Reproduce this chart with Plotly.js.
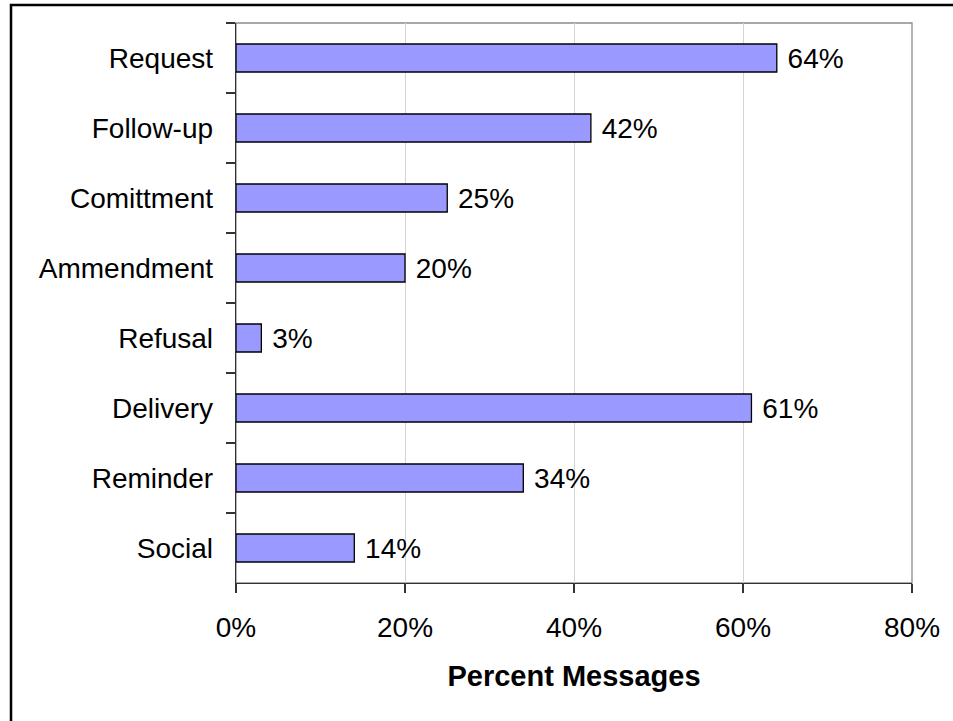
<!DOCTYPE html>
<html>
<head>
<meta charset="utf-8">
<script src="https://cdn.plot.ly/plotly-3.0.1.min.js"></script>
<style>
  html, body { margin: 0; padding: 0; background: #ffffff; }
  #chart { width: 953px; height: 721px; }
</style>
</head>
<body>
<div id="chart"></div>
<script>
const categories = ["Request", "Follow-up", "Comittment", "Ammendment", "Refusal", "Delivery", "Reminder", "Social"];
const percentValues = [64, 42, 25, 20, 3, 61, 34, 14];
const xTickValues = [0, 20, 40, 60, 80];
const xTickLabels = ["0%", "20%", "40%", "60%", "80%"];
const xAxisTitle = "Percent Messages";

const FONT = '"Liberation Sans", Arial, Helvetica, sans-serif';

const trace = {
  type: 'bar',
  orientation: 'h',
  y: categories,
  x: percentValues,
  width: 0.4,
  marker: { color: '#9999ff', line: { color: '#000000', width: 1.3 } },
  text: percentValues.map(v => '\u00a0' + v + '%'),
  textposition: 'outside',
  constraintext: 'none',
  cliponaxis: false,
  textfont: { family: FONT, size: 28, color: '#000000' },
  hoverinfo: 'none'
};

// plot area occupies px 236..912 horizontally, 23..583 vertically
const L = 236, R = 912, T = 23, B = 583;
const W = R - L, H = B - T;
const px = x => (x - L) / W;
const py = y => (B - y) / H;

const layout = {
  width: 953,
  height: 721,
  margin: { l: L, r: 953 - R, t: T, b: 721 - B, pad: 0 },
  paper_bgcolor: '#ffffff',
  plot_bgcolor: '#ffffff',
  font: { family: FONT, size: 28, color: '#000000' },
  showlegend: false,
  bargap: 0.6,
  xaxis: {
    range: [0, 80],
    tickvals: xTickValues,
    ticktext: xTickLabels,
    showgrid: true,
    gridcolor: '#d4d4d4',
    gridwidth: 1,
    zeroline: false,
    showline: true,
    linecolor: '#333333',
    linewidth: 1.3,
    ticks: 'outside',
    ticklen: 9,
    tickcolor: '#333333',
    tickwidth: 1.3,
    ticklabelstandoff: 10,
    tickfont: { family: FONT, size: 28, color: '#000000' },
    title: { text: xAxisTitle, font: { family: FONT, size: 29, color: '#000000', weight: 'bold' }, standoff: 23 },
    fixedrange: true
  },
  yaxis: {
    type: 'category',
    autorange: 'reversed',
    showgrid: false,
    zeroline: false,
    showline: true,
    linecolor: '#333333',
    linewidth: 1.3,
    ticks: 'outside',
    tickson: 'boundaries',
    ticklen: 9,
    tickcolor: '#333333',
    tickwidth: 1.3,
    ticklabelstandoff: 16,
    tickfont: { family: FONT, size: 28, color: '#000000' },
    fixedrange: true
  },
  shapes: [
    { type: 'rect', xref: 'paper', yref: 'paper', x0: 0, x1: 1, y0: 0, y1: 1,
      line: { color: '#8c8c8c', width: 1.3 }, layer: 'below' },
    { type: 'rect', xref: 'paper', yref: 'paper', x0: px(11), x1: px(980), y0: py(5), y1: py(750),
      line: { color: '#000000', width: 2.5 }, fillcolor: 'rgba(0,0,0,0)', layer: 'above' }
  ]
};

Plotly.newPlot('chart', [trace], layout, { displayModeBar: false, staticPlot: true });
</script>
</body>
</html>
